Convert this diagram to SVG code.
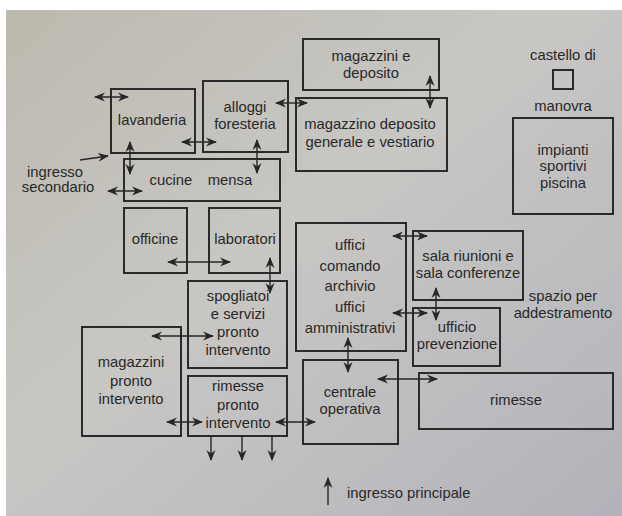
<svg xmlns="http://www.w3.org/2000/svg" width="622" height="516" viewBox="0 0 622 516">
<defs>
<linearGradient id="bg" x1="0" y1="0" x2="1" y2="1">
<stop offset="0" stop-color="#bcb9ae"/>
<stop offset="0.45" stop-color="#c8c7c4"/>
<stop offset="1" stop-color="#b3b2ba"/>
</linearGradient>
<marker id="ah" markerUnits="userSpaceOnUse" markerWidth="12" markerHeight="10" refX="10" refY="5" orient="auto-start-reverse" viewBox="0 0 12 10">
<path d="M0,0.5 L11,5 L0,9.5 L3.5,5 Z" fill="#262626"/>
</marker>
<style>
.box{fill:none;stroke:#2a2a2a;stroke-width:2}
text{font-family:"Liberation Sans",Arial,sans-serif;font-size:14.8px;fill:#282828;text-anchor:middle}
.l{text-anchor:start}
.c{stroke:#262626;stroke-width:1.4;fill:none}
.d{marker-start:url(#ah);marker-end:url(#ah)}
.s{marker-end:url(#ah)}
</style>
</defs>
<rect x="0" y="0" width="622" height="516" fill="#ffffff"/>
<rect x="6" y="10" width="616" height="506" fill="url(#bg)"/>

<g id="lavanderia"><rect class="box" x="111" y="89" width="84" height="64"/><text x="152" y="125">lavanderia</text></g>
<g id="alloggi"><rect class="box" x="203" y="81" width="85" height="71"/><text x="245" y="112">alloggi</text><text x="245" y="129">foresteria</text></g>
<g id="magazzini-deposito"><rect class="box" x="303" y="39" width="136" height="51"/><text x="371" y="61">magazzini e</text><text x="371" y="78">deposito</text></g>
<g id="magazzino-generale"><rect class="box" x="296" y="98" width="151" height="73"/><text x="370" y="129">magazzino deposito</text><text x="370" y="147">generale e vestiario</text></g>
<g id="castello"><text x="563" y="60">castello di</text><rect class="box" x="553" y="70" width="20" height="19"/><text x="563" y="111">manovra</text></g>
<g id="impianti"><rect class="box" x="513" y="118" width="100" height="96"/><text x="563" y="155">impianti</text><text x="563" y="171">sportivi</text><text x="563" y="188">piscina</text></g>
<g id="cucine"><rect class="box" x="124" y="159" width="156" height="42"/><text x="185" y="185"><tspan x="173">cucine</tspan> <tspan x="230">mensa</tspan></text></g>
<g id="ingresso-secondario"><text x="55" y="177">ingresso</text><text x="58" y="192">secondario</text></g>
<g id="officine"><rect class="box" x="124" y="208" width="63" height="65"/><text x="155" y="244">officine</text></g>
<g id="laboratori"><rect class="box" x="209" y="208" width="71" height="65"/><text x="245" y="244">laboratori</text></g>
<g id="spogliatoi"><rect class="box" x="188" y="281" width="99" height="87"/><text x="238" y="301">spogliatoi</text><text x="238" y="319">e servizi</text><text x="238" y="337">pronto</text><text x="238" y="355">intervento</text></g>
<g id="magazzini-pronto"><rect class="box" x="82" y="327" width="99" height="109"/><text x="131" y="367">magazzini</text><text x="131" y="386">pronto</text><text x="131" y="404">intervento</text></g>
<g id="rimesse-pronto"><rect class="box" x="188" y="376" width="99" height="60"/><text x="238" y="391">rimesse</text><text x="238" y="410">pronto</text><text x="238" y="428">intervento</text></g>
<g id="uffici"><rect class="box" x="296" y="223" width="110" height="128"/><text x="350" y="250">uffici</text><text x="350" y="271">comando</text><text x="350" y="291">archivio</text><text x="350" y="312">uffici</text><text x="350" y="333">amministrativi</text></g>
<g id="sala-riunioni"><rect class="box" x="413" y="231" width="110" height="69"/><text x="468" y="261">sala riunioni e</text><text x="468" y="278">sala conferenze</text></g>
<g id="spazio"><text x="563" y="301">spazio per</text><text x="563" y="318">addestramento</text></g>
<g id="ufficio-prevenzione"><rect class="box" x="413" y="308" width="87" height="58"/><text x="457" y="332">ufficio</text><text x="457" y="349">prevenzione</text></g>
<g id="centrale"><rect class="box" x="303" y="360" width="95" height="84"/><text x="350" y="397">centrale</text><text x="350" y="414">operativa</text></g>
<g id="rimesse"><rect class="box" x="419" y="373" width="194" height="56"/><text x="516" y="405">rimesse</text></g>
<g id="ingresso-principale"><text class="l" x="347" y="498">ingresso principale</text></g>

<g id="connectors">
<line class="c d" x1="95" y1="97" x2="128" y2="97"/>
<line class="c d" x1="182" y1="142" x2="216" y2="142"/>
<line class="c d" x1="130" y1="142" x2="130" y2="174"/>
<line class="c d" x1="257" y1="140" x2="257" y2="173"/>
<line class="c d" x1="276" y1="103" x2="307" y2="103"/>
<line class="c d" x1="430" y1="76" x2="430" y2="108"/>
<line class="c d" x1="108" y1="191" x2="142" y2="191"/>
<line class="c s" x1="80" y1="160" x2="108" y2="156"/>
<line class="c d" x1="168" y1="262" x2="230" y2="262"/>
<line class="c d" x1="270" y1="258" x2="270" y2="293"/>
<line class="c d" x1="152" y1="336" x2="213" y2="336"/>
<line class="c d" x1="167" y1="422" x2="202" y2="422"/>
<line class="c d" x1="276" y1="422" x2="315" y2="422"/>
<line class="c s" x1="211" y1="436" x2="211" y2="460"/>
<line class="c s" x1="242" y1="436" x2="242" y2="460"/>
<line class="c s" x1="272" y1="436" x2="272" y2="460"/>
<line class="c d" x1="393" y1="236" x2="427" y2="236"/>
<line class="c d" x1="436" y1="288" x2="436" y2="320"/>
<line class="c d" x1="393" y1="313" x2="427" y2="313"/>
<line class="c d" x1="348" y1="338" x2="348" y2="372"/>
<line class="c d" x1="378" y1="379" x2="437" y2="379"/>
<line class="c s" x1="328" y1="505" x2="328" y2="478"/>
</g>
</svg>
